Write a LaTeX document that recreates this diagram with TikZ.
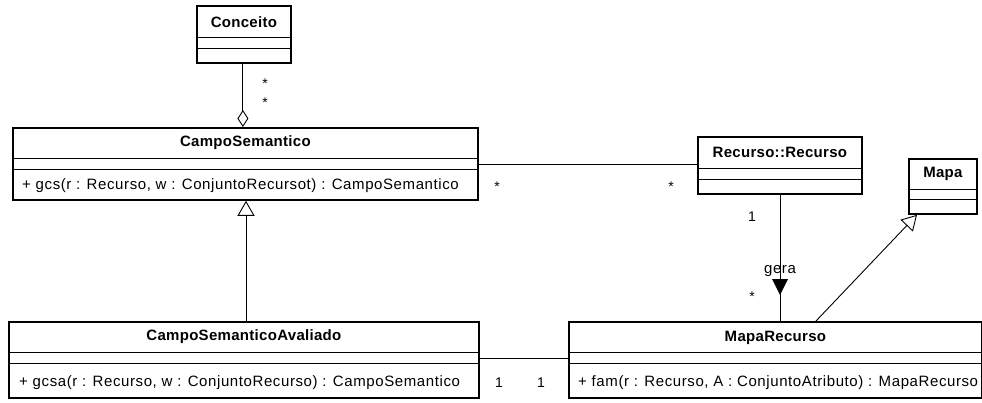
\documentclass[tikz,border=0pt]{standalone}
\usepackage{fontspec}
\setmainfont{Liberation Sans}
\newfontfamily\opfont[LetterSpace=4.0]{Liberation Sans}
\newfontfamily\ttlfont[LetterSpace=2.0]{Liberation Sans}
\usetikzlibrary{arrows.meta}
\begin{document}
\begin{tikzpicture}[x=1pt,y=-1pt,
  box/.style={draw, line width=1.8pt, inner sep=0pt, anchor=north west},
  sep/.style={line width=0.9pt},
  conn/.style={line width=0.9pt},
  ttl/.style={font=\ttlfont\bfseries\fontsize{15}{17}\selectfont, inner sep=0pt},
  op/.style={font=\opfont\fontsize{15}{17}\selectfont, inner sep=0pt, anchor=west},
  mult/.style={font=\fontsize{14}{16}\selectfont, inner sep=0pt}]
\useasboundingbox (0,0) rectangle (982,402);

% ---- classes ----
\node[box, minimum width=94pt, minimum height=57pt] (conceito) at (196,5) {};
\draw[sep] ([yshift=-32pt]conceito.north west) -- ([yshift=-32pt]conceito.north east);
\draw[sep] ([yshift=-43pt]conceito.north west) -- ([yshift=-43pt]conceito.north east);
\node[ttl] at ([yshift=-17pt]conceito.north) {Conceito};

\node[box, minimum width=465pt, minimum height=72pt] (cs) at (12,127) {};
\draw[sep] ([yshift=-31pt]cs.north west) -- ([yshift=-31pt]cs.north east);
\draw[sep] ([yshift=-42pt]cs.north west) -- ([yshift=-42pt]cs.north east);
\node[ttl] at ([yshift=-16pt]cs.north) {CampoSemantico};
\node[op] at ([xshift=10pt,yshift=15pt]cs.south west) {+ gcs(r : Recurso, w : ConjuntoRecursot) : CampoSemantico};

\node[box, minimum width=470pt, minimum height=76pt] (csa) at (8,321) {};
\draw[sep] ([yshift=-31pt]csa.north west) -- ([yshift=-31pt]csa.north east);
\draw[sep] ([yshift=-42pt]csa.north west) -- ([yshift=-42pt]csa.north east);
\node[ttl] at ([yshift=-16pt]csa.north) {CampoSemanticoAvaliado};
\node[op] at ([xshift=11pt,yshift=16pt]csa.south west) {+ gcsa(r : Recurso, w : ConjuntoRecurso) : CampoSemantico};

\node[box, minimum width=164pt, minimum height=57pt] (rec) at (697,136) {};
\draw[sep] ([yshift=-32pt]rec.north west) -- ([yshift=-32pt]rec.north east);
\draw[sep] ([yshift=-43pt]rec.north west) -- ([yshift=-43pt]rec.north east);
\node[ttl] at ([yshift=-16pt]rec.north) {Recurso::Recurso};

\node[box, minimum width=68pt, minimum height=55pt] (mapa) at (908,158) {};
\draw[sep] ([yshift=-31pt]mapa.north west) -- ([yshift=-31pt]mapa.north east);
\draw[sep] ([yshift=-41pt]mapa.north west) -- ([yshift=-41pt]mapa.north east);
\node[ttl] at ([yshift=-16pt]mapa.north) {Mapa};

\node[box, minimum width=413pt, minimum height=76pt] (mr) at (568,321) {};
\draw[sep] ([yshift=-31pt]mr.north west) -- ([yshift=-31pt]mr.north east);
\draw[sep] ([yshift=-42pt]mr.north west) -- ([yshift=-42pt]mr.north east);
\node[ttl] at ([yshift=-17pt]mr.north) {MapaRecurso};
\node[op] at ([xshift=10pt,yshift=16pt]mr.south west) {+ fam(r : Recurso, A : ConjuntoAtributo) : MapaRecurso};

% ---- aggregation Conceito -- CampoSemantico ----
\draw[conn, -{Diamond[open, length=17pt, width=11pt, line width=0.9pt]}]
  ([xshift=-1pt]conceito.south) -- ([xshift=-1pt]conceito.south |- cs.north);
\node[mult] at (265,84) {*};
\node[mult] at (265,103) {*};

% ---- generalization CampoSemanticoAvaliado -> CampoSemantico ----
\draw[conn, -{Triangle[open, length=15pt, width=17pt, line width=0.9pt]}]
  (csa.north -| 246,0) -- (cs.south -| 246,0);

% ---- association CampoSemantico -- Recurso ----
\draw[conn] (cs.east |- 0,164) -- (rec.west |- 0,164);
\node[mult] at (497,187) {*};
\node[mult] at (671,187) {*};

% ---- association gera: Recurso -- MapaRecurso ----
\draw[conn] (rec.south -| 780,0) -- (mr.north -| 780,0);
\coordinate (gtip) at (780,295);
\fill ([xshift=-8pt,yshift=16pt]gtip) -- ([xshift=8pt,yshift=16pt]gtip) -- (gtip) -- cycle;
\node[font=\opfont\fontsize{15}{17}\selectfont, inner sep=0pt] at (780,271) {gera};
\node[mult] at (752,217) {1};
\node[mult] at (752,297) {*};

% ---- generalization MapaRecurso -> Mapa ----
\draw[conn, -{Triangle[open, length=15pt, width=17pt, line width=0.9pt]}]
  ([xshift=248pt]mr.north west) -- ([xshift=9pt]mapa.south west);

% ---- association CampoSemanticoAvaliado -- MapaRecurso ----
\draw[conn] (csa.east |- 0,358) -- (mr.west |- 0,358);
\node[mult] at (499,383) {1};
\node[mult] at (541,383) {1};
\end{tikzpicture}
\end{document}
